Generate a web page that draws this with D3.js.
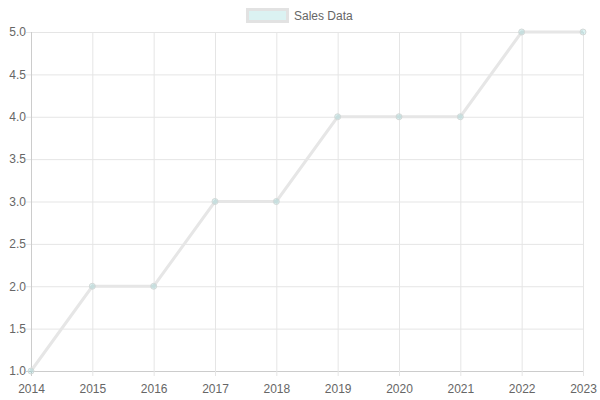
<!DOCTYPE html>
<html lang="en">
<head>
<meta charset="UTF-8">
<title>Sales Data</title>
<style>
  body { margin: 0; background: #fff; }
  svg text { font-family: "Liberation Sans", Arial, sans-serif; font-size: 12px; fill: #666; }
  .domain { display: none; }
</style>
</head>
<body>
<svg width="600" height="400"></svg>
<script src="https://d3js.org/d3.v7.min.js"></script>
<script>
// chart data
var years = ["2014", "2015", "2016", "2017", "2018", "2019", "2020", "2021", "2022", "2023"];
var sales = [1, 2, 2, 3, 3, 4, 4, 4, 5, 5];
var yTicks = [1.0, 1.5, 2.0, 2.5, 3.0, 3.5, 4.0, 4.5, 5.0];
var seriesName = "Sales Data";

var svg = d3.select("svg");
var plotLeft = 31, plotRight = 583, plotTop = 32, plotBottom = 371;

var x = d3.scalePoint().domain(years).range([plotLeft, plotRight]);
var y = d3.scaleLinear().domain([1, 5]).range([plotBottom, plotTop]);

// grid
var grid = svg.append("g").attr("class", "grid");
grid.selectAll(".h").data(yTicks).enter().append("line")
  .attr("x1", plotLeft - 5).attr("x2", plotRight)
  .attr("y1", function(d) { return y(d) + 0.5; })
  .attr("y2", function(d) { return y(d) + 0.5; })
  .style("stroke", function(d) { return d === 1 ? "#ccc" : "#e5e5e5"; });
grid.selectAll(".v").data(years).enter().append("line")
  .attr("x1", function(d) { return x(d) + 0.5; })
  .attr("x2", function(d) { return x(d) + 0.5; })
  .attr("y1", plotTop).attr("y2", plotBottom + 5)
  .style("stroke", function(d, i) { return i === 0 ? "#ccc" : "#e5e5e5"; });

// axes
svg.append("g")
  .attr("transform", "translate(" + (plotLeft - 5) + ",0)")
  .call(d3.axisLeft(y).tickValues(yTicks).tickFormat(d3.format(".1f")).tickSize(0).tickPadding(0))
  .call(function(g) { g.select(".domain").remove(); });

svg.append("g")
  .attr("transform", "translate(0," + (plotBottom + 8) + ")")
  .call(d3.axisBottom(x).tickSize(0).tickPadding(5))
  .call(function(g) { g.select(".domain").remove(); });

// line
var line = d3.line()
  .x(function(d, i) { return x(years[i]); })
  .y(function(d) { return y(d); });

svg.append("path")
  .datum(sales)
  .attr("d", line)
  .attr("fill", "none")
  .attr("stroke", "#e6e6e6")
  .attr("stroke-width", 3);

svg.selectAll(".dot").data(sales).enter().append("circle")
  .attr("cx", function(d, i) { return x(years[i]); })
  .attr("cy", function(d) { return y(d); })
  .attr("r", 3)
  .attr("fill", "rgba(75,192,192,0.2)")
  .attr("stroke", "#d4d9d8")
  .attr("stroke-width", 1);

// legend
var lg = svg.append("g");
lg.append("rect")
  .attr("x", 247.5).attr("y", 9.5).attr("width", 40).attr("height", 12)
  .attr("fill", "rgba(75,192,192,0.2)")
  .attr("stroke", "#e2e2e2").attr("stroke-width", 3);
lg.append("text")
  .attr("x", 294).attr("y", 20)
  .text(seriesName);
</script>
</body>
</html>
